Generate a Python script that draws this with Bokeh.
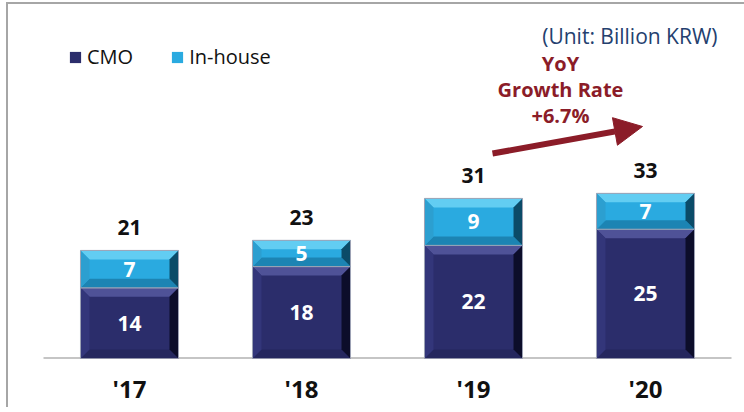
from bokeh.plotting import figure
from bokeh.models import (Range1d, FixedTicker, Label, Arrow, NormalHead, Legend,
                          LegendItem)
from bokeh.embed import file_html
from bokeh.resources import INLINE
from bokeh.core.properties import value

# ---- data ----
years = ["'17", "'18", "'19", "'20"]
cmo = [14.0, 18.2, 22.4, 25.6]
inhouse = [7.4, 5.2, 9.3, 7.1]
cmo_labels = ["14", "18", "22", "25"]
inhouse_labels = ["7", "5", "9", "7"]
total_labels = ["21", "23", "31", "33"]
unit_text = "(Unit: Billion KRW)"
yoy_lines = ["YoY", "Growth Rate", "+6.7%"]

FONT = "Open Sans"
PX_X = 172.0   # px per category
PX_Y = 5.05    # px per unit
OX, OY = 8, 4  # window position of canvas origin
FW, FH = 736, 358 - OY
xs0 = -(43.0 - OX) / PX_X
ye = FH / PX_Y


def wx(px):
    return (px - 43.0) / PX_X


def wy(py):
    return (358.0 - py) / PX_Y


p = figure(frame_width=FW, frame_height=FH, output_backend="svg", toolbar_location=None,
           x_range=Range1d(xs0, xs0 + FW / PX_X), y_range=Range1d(0, ye),
           min_border_left=0, min_border_right=0, min_border_top=0,
           min_border_bottom=0)
p.styles = {"border-top": "2px solid #a6a6a6", "border-left": "2px solid #a6a6a6",
            "margin-left": "6px", "margin-top": "2px"}
p.outline_line_color = None
p.grid.visible = False
p.yaxis.visible = False

xa = p.xaxis[0]
xa.ticker = FixedTicker(ticks=[i + 0.5 for i in range(len(years))])
xa.major_label_overrides = {i + 0.5: y for i, y in enumerate(years)}
xa.axis_line_color = None
xa.major_tick_line_color = None
xa.minor_tick_line_color = None
xa.major_label_text_font = FONT
xa.major_label_text_font_style = "bold"
xa.major_label_text_font_size = "24px"
xa.major_label_text_color = "#111111"
xa.major_label_standoff = 7

# baseline
p.segment(x0=[0], y0=[0], x1=[len(years)], y1=[0], line_color="#8c8c8c", line_width=2)

BW = 0.57
bx = 9.0 / PX_X
by_px = 9.0

styles = {
    "cmo": dict(face="#2b2d6b", top="#4f5297", bottom="#25275e", left="#33367a", right="#0c0d2a"),
    "inh": dict(face="#2aaae0", top="#62cdf2", bottom="#1c84b3", left="#2c9fd0", right="#0b4b68"),
}


def bevels(x0, x1, y0, y1):
    by = min(by_px / PX_Y, (y1 - y0) / 2.6)
    top = ([x0, x1, x1 - bx, x0 + bx], [y1, y1, y1 - by, y1 - by])
    bot = ([x0, x1, x1 - bx, x0 + bx], [y0, y0, y0 + by, y0 + by])
    lef = ([x0, x0 + bx, x0 + bx, x0], [y0, y0 + by, y1 - by, y1])
    rig = ([x1, x1 - bx, x1 - bx, x1], [y0, y0 + by, y1 - by, y1])
    return top, bot, lef, rig


renderers = {}
for key, bottoms, heights in (("cmo", [0] * 4, cmo), ("inh", cmo, inhouse)):
    st = styles[key]
    lefts = [i + 0.5 - BW / 2 for i in range(len(years))]
    rights = [i + 0.5 + BW / 2 for i in range(len(years))]
    b = list(bottoms)
    t = [bb + h for bb, h in zip(bottoms, heights)]
    r = p.quad(left=lefts, right=rights, bottom=b, top=t, fill_color=st["face"], line_color=None)
    renderers[key] = r
    parts = {"top": ([], []), "bottom": ([], []), "left": ([], []), "right": ([], [])}
    for x0, x1, y0, y1 in zip(lefts, rights, b, t):
        tp, bt, lf, rg = bevels(x0, x1, y0, y1)
        for name, sh in (("top", tp), ("bottom", bt), ("left", lf), ("right", rg)):
            parts[name][0].append(sh[0])
            parts[name][1].append(sh[1])
    for name in ("top", "bottom", "left", "right"):
        p.patches(xs=parts[name][0], ys=parts[name][1], fill_color=st[name], line_color=None)
    p.quad(left=lefts, right=rights, bottom=b, top=t, fill_color=None,
           line_color="#9ea3b5", line_width=1)

# in-bar labels
xc = [i + 0.5 for i in range(len(years))]
p.text(x=xc, y=[c / 2 for c in cmo], text=cmo_labels, text_align="center",
       text_baseline="middle", text_color="white", text_font=value(FONT),
       text_font_style="bold", text_font_size="21px")
p.text(x=xc, y=[c + h / 2 for c, h in zip(cmo, inhouse)], text=inhouse_labels,
       text_align="center", text_baseline="middle", text_color="white",
       text_font=value(FONT), text_font_style="bold", text_font_size="21px")
p.text(x=xc, y=[c + h + 23 / PX_Y for c, h in zip(cmo, inhouse)], text=total_labels,
       text_align="center", text_baseline="middle", text_color="#111111",
       text_font=value(FONT), text_font_style="bold", text_font_size="21px")

# legend
legend = Legend(items=[LegendItem(label="CMO", renderers=[renderers["cmo"]]),
                       LegendItem(label="In-house", renderers=[renderers["inh"]])],
                orientation="horizontal", location=(60, 288), padding=0, margin=0,
                spacing=37, label_standoff=5, glyph_width=14, glyph_height=14,
                label_text_font=FONT, label_text_font_size="20px",
                label_text_color="#111111", border_line_color=None,
                background_fill_alpha=0)
p.add_layout(legend)

# unit text
p.add_layout(Label(x=wx(717), y=wy(35), text=unit_text,
                   text_align="right", text_baseline="middle", text_font=FONT,
                   text_font_size="21px", text_color="#24406e"))

# YoY annotation
red = "#8b1c28"
for line, py in zip(yoy_lines, [63, 89, 115]):
    p.add_layout(Label(x=wx(560), y=wy(py), text=line,
                       text_align="center", text_baseline="middle", text_font=FONT,
                       text_font_style="bold", text_font_size="20px", text_color=red))

p.add_layout(Arrow(x_start=wx(492), y_start=wy(153), x_end=wx(642), y_end=wy(126),
                   line_color=red, line_width=6,
                   end=NormalHead(size=28, fill_color=red, line_color=red, line_width=1)))

open("out.html", "w").write(file_html(p, INLINE))
